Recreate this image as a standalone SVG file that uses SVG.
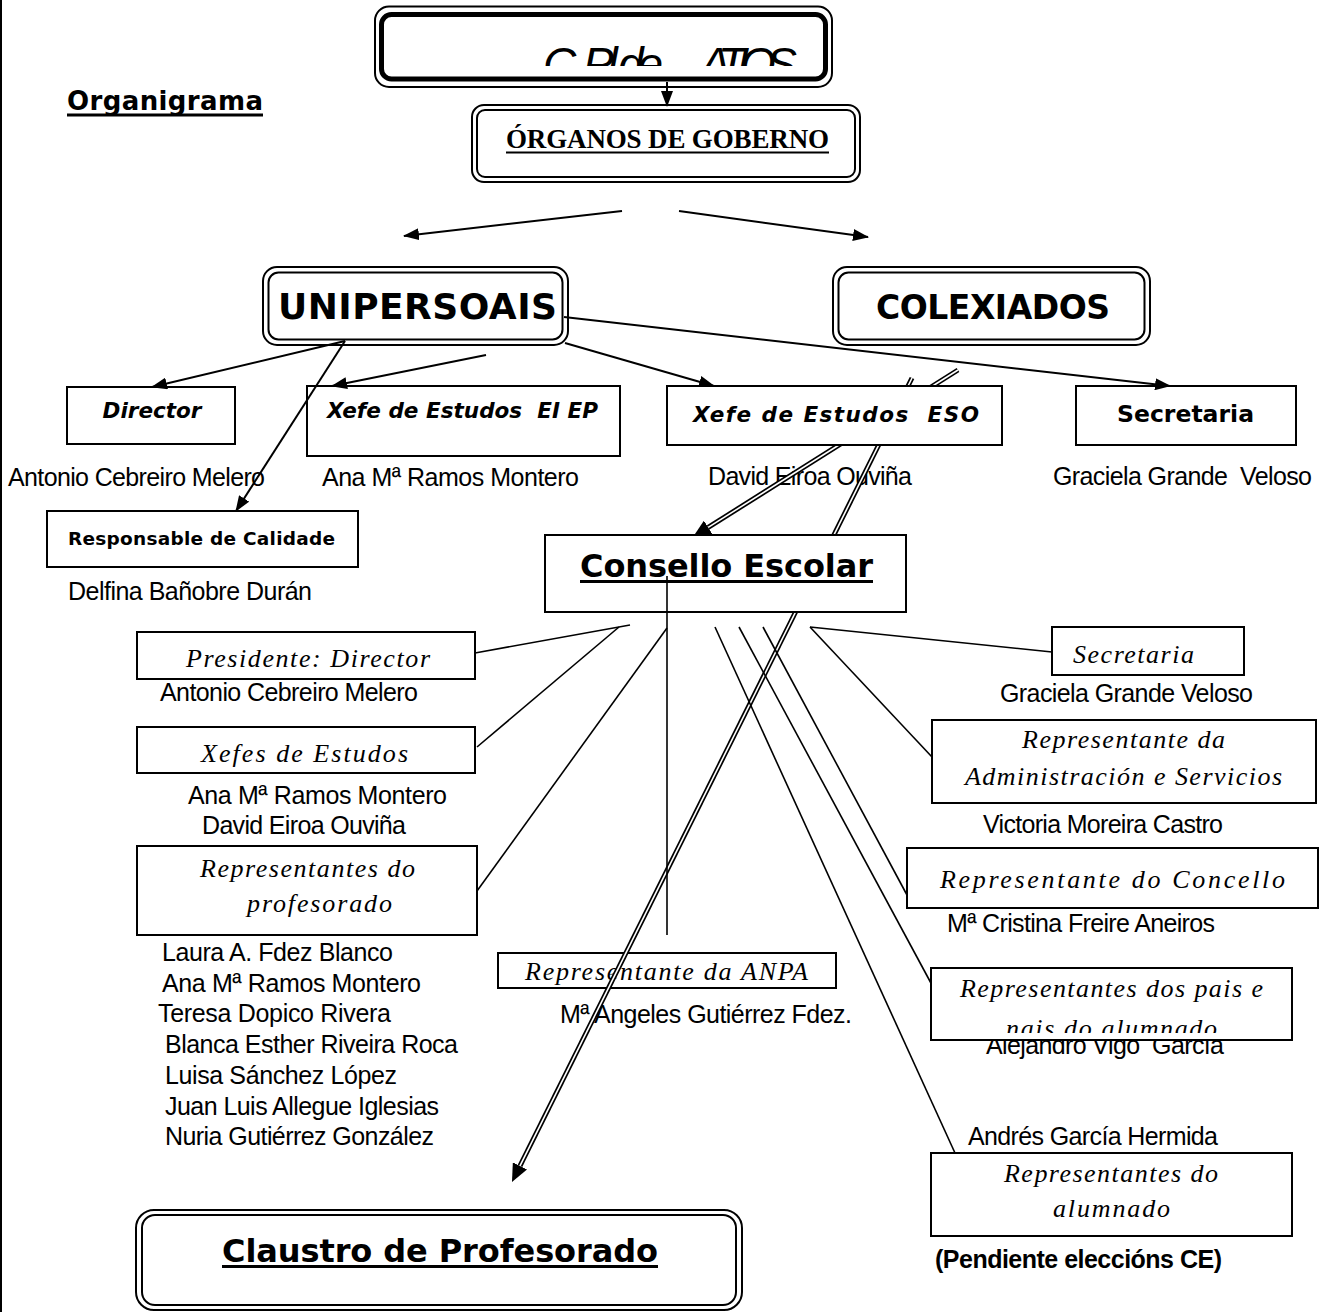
<svg xmlns="http://www.w3.org/2000/svg" width="1331" height="1312" viewBox="0 0 1331 1312">
<style>
.bx{fill:#fff;stroke:#000;stroke-width:2}
.ln{fill:none;stroke:#000;stroke-width:2}
.lc{fill:none;stroke:#000;stroke-width:1.6}
.dbo{fill:none;stroke:#000;stroke-width:5}
.dbi{fill:none;stroke:#fff;stroke-width:1.6}
.nm{font-family:"Liberation Sans",Arial,sans-serif;font-size:25px;fill:#000}
.sr{font-family:"Liberation Serif","Times New Roman",serif;font-style:italic;font-size:26px;fill:#000}
.bi{font-family:"DejaVu Sans",Verdana,sans-serif;font-weight:bold;font-style:italic;font-size:21.5px;fill:#000}
.bd{font-family:"DejaVu Sans",Verdana,sans-serif;font-weight:bold;fill:#000}
.pre{white-space:pre}
</style>
<defs>
<marker id="ah" viewBox="0 0 16 12" markerWidth="16" markerHeight="12" refX="15" refY="6" orient="auto" markerUnits="userSpaceOnUse"><path d="M0,0L16,6L0,12z"/></marker>
<marker id="ahd" viewBox="0 0 18 16" markerWidth="18" markerHeight="16" refX="0" refY="8" orient="auto" markerUnits="userSpaceOnUse"><path d="M0,0L18,8L0,16z"/></marker>
<clipPath id="tc"><rect x="381" y="15" width="445" height="51"/></clipPath>
<clipPath id="pc"><rect x="932" y="969" width="360" height="64"/></clipPath>
</defs>
<rect x="0" y="0" width="2" height="1312" fill="#000"/>
<text class="bd" x="67" y="110" font-size="26" textLength="196">Organigrama</text>
<rect x="67" y="113.5" width="196" height="3" fill="#000"/>
<g id="names">
<text class="nm" x="8" y="486" textLength="257">Antonio Cebreiro Melero</text>
<text class="nm" x="322" y="486" textLength="257">Ana Mª Ramos Montero</text>
<text class="nm" x="708" y="485" textLength="204">David Eiroa Ouviña</text>
<text class="nm pre" x="1053" y="485" textLength="259">Graciela Grande  Veloso</text>
<text class="nm" x="68" y="600" textLength="244">Delfina Bañobre Durán</text>
<text class="nm" x="160" y="701" textLength="258">Antonio Cebreiro Melero</text>
<text class="nm" x="1000" y="702" textLength="253">Graciela Grande Veloso</text>
<text class="nm" x="188" y="804" textLength="259">Ana Mª Ramos Montero</text>
<text class="nm" x="202" y="834" textLength="204">David Eiroa Ouviña</text>
<text class="nm" x="983" y="833" textLength="240">Victoria Moreira Castro</text>
<text class="nm" x="947" y="932" textLength="268">Mª Cristina Freire Aneiros</text>
<text class="nm" x="162" y="961" textLength="231">Laura A. Fdez Blanco</text>
<text class="nm" x="162" y="992" textLength="259">Ana Mª Ramos Montero</text>
<text class="nm" x="158" y="1022" textLength="233">Teresa Dopico Rivera</text>
<text class="nm" x="165" y="1053" textLength="293">Blanca Esther Riveira Roca</text>
<text class="nm" x="165" y="1084" textLength="232">Luisa Sánchez López</text>
<text class="nm" x="165" y="1115" textLength="274">Juan Luis Allegue Iglesias</text>
<text class="nm" x="165" y="1145" textLength="269">Nuria Gutiérrez González</text>
<text class="nm" x="560" y="1023" textLength="292">Mª Angeles Gutiérrez Fdez.</text>
<text class="nm pre" x="986" y="1054" textLength="238">Alejandro Vigo  García</text>
<text class="nm" x="968" y="1145" textLength="250">Andrés García Hermida</text>
<text class="nm" x="935" y="1268" font-weight="bold" font-size="23" textLength="287">(Pendiente eleccións CE)</text>
</g>
<g id="node-title">
<rect x="375" y="6.5" width="457" height="80.5" rx="14" class="bx"/>
<rect x="381.5" y="14.5" width="444" height="64.5" rx="10" fill="none" stroke="#000" stroke-width="5"/>
<g clip-path="url(#tc)" font-family="'Liberation Sans',Arial,sans-serif" font-style="italic" font-size="46">
<text x="543" y="80" textLength="120">C. Pl de</text>
<text x="700" y="80" textLength="97">ATIOS</text>
</g>
</g>
<g id="node-organos">
<rect x="472" y="105" width="388" height="77" rx="12" class="bx"/>
<rect x="477" y="110" width="378" height="67" rx="8" class="ln"/>
<text x="506" y="148" font-family="'Liberation Serif','Times New Roman',serif" font-weight="bold" font-size="27" textLength="323">ÓRGANOS DE GOBERNO</text>
<rect x="506" y="151.5" width="323" height="2" fill="#000"/>
</g>
<g id="node-unipersoais">
<rect x="263" y="267" width="305" height="78" rx="14" class="bx"/>
<rect x="268.5" y="272.5" width="294" height="67" rx="10" class="ln"/>
<text class="bd" x="278" y="319" font-size="36" textLength="279">UNIPERSOAIS</text>
</g>
<g id="node-colexiados">
<rect x="833" y="267" width="317" height="78" rx="14" class="bx"/>
<rect x="838.5" y="272.5" width="306" height="67" rx="10" class="ln"/>
<text class="bd" x="876" y="319" font-size="33" textLength="234">COLEXIADOS</text>
</g>
<g id="node-director">
<rect x="67" y="387" width="168" height="57" class="bx"/>
<text class="bi" x="152" y="418" text-anchor="middle">Director</text>
</g>
<g id="node-xefe-eiep">
<rect x="307" y="386" width="313" height="70" class="bx"/>
<text class="bi pre" x="327" y="418" textLength="271">Xefe de Estudos  EI EP</text>
</g>
<g id="node-secretaria">
<rect x="1076" y="386" width="220" height="59" class="bx"/>
<text class="bd" x="1117" y="422" font-size="23.5" textLength="137">Secretaria</text>
</g>
<g id="node-responsable">
<rect x="47" y="511" width="311" height="56" class="bx"/>
<text class="bd" x="68" y="545" font-size="18.5" textLength="267">Responsable de Calidade</text>
</g>
<g id="node-presidente">
<rect x="137" y="632" width="338" height="47" class="bx"/>
<text class="sr" x="186" y="667" font-size="27" textLength="244">Presidente: Director</text>
</g>
<g id="node-xefes">
<rect x="137" y="727" width="338" height="46" class="bx"/>
<text class="sr" x="201" y="762" font-size="27" textLength="207">Xefes de Estudos</text>
</g>
<g id="node-profesorado">
<rect x="137" y="846" width="340" height="89" class="bx"/>
<text class="sr" x="200" y="877" textLength="215">Representantes do</text>
<text class="sr" x="247" y="912" textLength="145">profesorado</text>
</g>
<g id="node-anpa">
<rect x="498" y="953" width="338" height="35" class="bx"/>
<text class="sr" x="525" y="980" font-size="25" textLength="283">Representante da ANPA</text>
</g>
<g id="node-secretaria-ce">
<rect x="1052" y="627" width="192" height="48" class="bx"/>
<text class="sr" x="1073" y="663" textLength="121">Secretaria</text>
</g>
<g id="node-admin">
<rect x="932" y="720" width="384" height="83" class="bx"/>
<text class="sr" x="1022" y="748" textLength="203">Representante da</text>
<text class="sr" x="965" y="785" textLength="317">Administración e Servicios</text>
</g>
<g id="node-concello">
<rect x="907" y="848" width="411" height="60" class="bx"/>
<text class="sr" x="940" y="888" font-size="29" textLength="345">Representante do Concello</text>
</g>
<g id="node-alumnado">
<rect x="931" y="1153" width="361" height="83" class="bx"/>
<text class="sr" x="1004" y="1182" font-size="25" textLength="214">Representantes do</text>
<text class="sr" x="1053" y="1217" font-size="25" textLength="117">alumnado</text>
</g>
<g id="node-claustro">
<rect x="136" y="1210" width="606" height="100" rx="18" class="bx"/>
<rect x="142" y="1215" width="594" height="90" rx="13" class="ln"/>
<text class="bd" x="222" y="1262" font-size="32" textLength="436">Claustro de Profesorado</text>
<rect x="222" y="1265" width="436" height="3" fill="#000"/>
</g>
<g id="connectors">
<line class="ln" x1="667" y1="82" x2="667" y2="106" marker-end="url(#ah)"/>
<line class="ln" x1="622" y1="211" x2="404" y2="236" marker-end="url(#ah)"/>
<line class="ln" x1="679" y1="211" x2="868" y2="237" marker-end="url(#ah)"/>
<line class="ln" x1="345" y1="341" x2="152" y2="387" marker-end="url(#ah)"/>
<line class="ln" x1="345" y1="341" x2="236" y2="511" marker-end="url(#ah)"/>
<line class="ln" x1="486" y1="355" x2="332" y2="386" marker-end="url(#ah)"/>
<line class="ln" x1="565" y1="343" x2="714" y2="386" marker-end="url(#ah)"/>
<line class="ln" x1="564" y1="317" x2="1170" y2="386" marker-end="url(#ah)"/>
<line class="dbo" x1="958" y1="370" x2="708.2" y2="527.4" marker-end="url(#ahd)"/>
<line class="dbi" x1="958" y1="370" x2="708.2" y2="527.4"/>
<line class="dbo" x1="912" y1="378" x2="520" y2="1165.9" marker-end="url(#ahd)"/>
<line class="dbi" x1="912" y1="378" x2="520" y2="1165.9"/>
<line class="lc" x1="630" y1="625" x2="475" y2="653"/>
<line class="lc" x1="619" y1="627" x2="477" y2="747"/>
<line class="lc" x1="667" y1="628" x2="477" y2="891"/>
<line class="lc" x1="715" y1="627" x2="955" y2="1153"/>
<line class="lc" x1="739" y1="627" x2="932" y2="985"/>
<line class="lc" x1="763" y1="627" x2="907" y2="895"/>
<line class="lc" x1="810" y1="627" x2="1052" y2="652"/>
<line class="lc" x1="810" y1="627" x2="932" y2="757"/>
</g>
<g id="node-xefe-eso">
<rect x="667" y="386" width="335" height="59" class="bx"/>
<text class="bi pre" x="693" y="422" font-size="22.5" textLength="286">Xefe de Estudos  ESO</text>
</g>
<g id="node-consello">
<rect x="545" y="535" width="361" height="77" class="bx"/>
<text class="bd" x="580" y="577" font-size="32" textLength="293">Consello Escolar</text>
<rect x="580" y="580" width="293" height="3" fill="#000"/>
</g>
<g id="node-pais">
<rect x="931" y="968" width="361" height="72" class="bx"/>
<text class="sr" x="960" y="997" font-size="25" textLength="303">Representantes dos pais e</text>
<text class="sr" x="1006" y="1037" font-size="25" textLength="211" clip-path="url(#pc)">nais do alumnado</text>
</g>
<g id="connectors-top">
<line class="lc" x1="667" y1="576" x2="667" y2="935"/>
</g>
</svg>
